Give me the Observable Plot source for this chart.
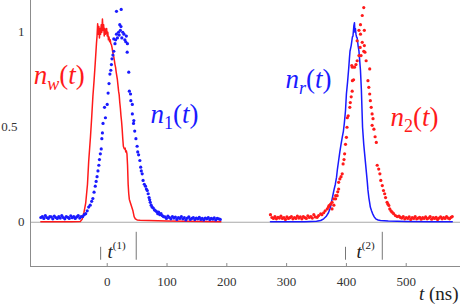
<!DOCTYPE html>
<html><head><meta charset="utf-8">
<script src="https://cdn.jsdelivr.net/npm/d3@7"></script>
<script src="https://cdn.jsdelivr.net/npm/@observablehq/plot@0.6"></script>
</head><body style="margin:0"><div id="chart"></div>
<script>
// ---- data ----
const xDomain = [-128.3, 590.8];
const yDomain = [-0.233, 1.167];
const xTicks = [0, 100, 200, 300, 400, 500];
const yTicksMain = [0, 1];
const yTicksHalf = [0.5];

// n_w(t): red solid line (first pulse)
const nwLine = [[-111,0.003],[-60,0.003],[-45,0.004],[-42,0.015],[-39,0.05],[-36,0.10],[-33,0.2],[-31,0.32],[-28,0.45],[-26,0.55],[-24,0.66],[-22,0.745],[-20,0.84],[-18,0.94],[-17,0.98],[-16,1.045],[-15,0.99],[-14,1.03],[-13,0.97],[-12,1.02],[-11,0.99],[-10,1.04],[-9,1.0],[-8,1.07],[-7,1.01],[-6,1.04],[-5,0.98],[-4,1.02],[-3,0.99],[-2,1.01],[-1,1.02],[0,0.98],[1,1.0],[2,0.96],[3,0.975],[4,0.95],[5,0.96],[6,0.94],[7,0.935],[8,0.92],[9,0.9],[10,0.885],[11,0.87],[12,0.85],[13,0.83],[14,0.815],[15,0.79],[16,0.77],[17,0.75],[18,0.72],[19,0.69],[20,0.67],[21,0.63],[22,0.6],[23,0.56],[24,0.53],[25,0.49],[26,0.44],[27,0.40],[28,0.39],[29,0.385],[30,0.39],[31,0.37],[32,0.375],[33,0.36],[34,0.3],[35,0.2],[36,0.15],[37,0.12],[39,0.1],[41,0.08],[43,0.06],[45,0.03],[47,0.018],[50,0.012],[55,0.01],[70,0.009],[100,0.007],[130,0.005],[160,0.004],[190,0.003]];

// n_1(t): blue dots (first pulse)
const n1Dots = [[-111,0.025],[-108.5,0.03],[-106,0.02],[-103.5,0.035],[-101,0.025],[-98.5,0.02],[-96,0.03],[-93.5,0.028],[-91,0.018],[-88.5,0.032],[-86,0.025],[-83.5,0.02],[-81,0.03],[-78.5,0.022],[-76,0.035],[-73.5,0.025],[-71,0.018],[-68.5,0.03],[-66,0.026],[-63.5,0.02],[-61,0.033],[-58.5,0.024],[-56,0.03],[-53.5,0.02],[-51,0.028],[-48.5,0.035],[-46,0.022],[-43.5,0.03],
[-41,0.03],[-38.5,0.04],[-36,0.045],[-33.5,0.06],[-31,0.08],[-28.5,0.09],[-26,0.11],[-24,0.125],[-22,0.158],[-20,0.19],[-18.5,0.215],[-17,0.24],[-15.5,0.27],[-14,0.3],[-13,0.33],[-11.5,0.36],[-10,0.386],[-9,0.44],[-8,0.47],[-7,0.52],[-4.5,0.605],[-3,0.55],[0,0.62],[1.5,0.68],[3,0.73],[4.5,0.78],[6,0.8],[7,0.83],[8,0.86],[9.5,0.88],[11,0.90],[11,0.965],[13,0.94],[14,0.96],[15.5,0.99],[15.5,1.11],[17,0.97],[19,1.0],[20,0.985],[21,1.04],[22,1.01],[23,1.03],[23.4,1.12],[24.5,0.97],[26,1.0],[28,0.99],[29.5,0.96],[31,0.95],[32,0.98],[33.4,0.895],[33.8,0.94],[36,0.79],[37,0.69],[39,0.675],[39.5,0.64],[42,0.62],[42,0.57],[44,0.52],[44.5,0.535],[46,0.48],[48,0.44],[50,0.40],[51,0.37],[52.5,0.355],[54.6,0.325],[56,0.29],[57,0.27],[58.5,0.255],[60,0.22],[62,0.2],[64,0.19],[65.5,0.175],[67,0.167],[68.5,0.15],[70,0.13],[71,0.118],[72,0.105],[73.5,0.09],[75,0.08],[77,0.075],[79,0.065],[81,0.06],[83,0.055],[84.5,0.045],[86,0.053],[88,0.04],[90,0.045],[92,0.035],[94,0.03],
[96.5,0.028],[99,0.02],[101.5,0.032],[104,0.025],[106.5,0.018],[109,0.03],[111.5,0.022],[114,0.027],[116.5,0.015],[119,0.025],[121.5,0.02],[124,0.03],[126.5,0.018],[129,0.024],[131.5,0.012],[134,0.022],[136.5,0.028],[139,0.015],[141.5,0.02],[144,0.025],[146.5,0.014],[149,0.022],[151.5,0.018],[154,0.026],[156.5,0.015],[159,0.02],[161.5,0.012],[164,0.022],[166.5,0.018],[169,0.025],[171.5,0.014],[174,0.02],[176.5,0.016],[179,0.023],[181.5,0.012],[184,0.02],[186.5,0.018],[189,0.015]];

// n_r(t): blue solid line (second pulse)
const nrLine = [[273,0.003],[300,0.003],[330,0.003],[350,0.005],[357,0.009],[362,0.018],[366,0.03],[370,0.05],[373,0.075],[376,0.12],[379,0.167],[381.5,0.2],[383.5,0.237],[385,0.28],[387,0.325],[389,0.37],[391,0.41],[393,0.447],[395,0.48],[396.5,0.52],[398.5,0.588],[400,0.675],[402,0.74],[404,0.816],[405,0.86],[406,0.9],[408,0.93],[410,0.975],[411,0.98],[412.5,1.035],[413.5,1.05],[414.3,1.0],[415,1.02],[416,0.99],[417,0.975],[418,0.97],[419.5,0.93],[421,0.9],[422,0.86],[423.5,0.8],[425,0.7],[426,0.6],[427,0.5],[429,0.41],[430.5,0.36],[432,0.31],[433.5,0.26],[435,0.21],[436,0.17],[437.5,0.13],[439,0.1],[440,0.08],[442,0.06],[444,0.044],[446.5,0.028],[449,0.018],[453,0.012],[457,0.009],[470,0.006],[500,0.004],[540,0.003],[577,0.003]];

// n_2(t): red dots (second pulse)
const n2Dots = [[273,0.04],[275.5,0.025],[278,0.02],[280.5,0.03],[283,0.018],[285.5,0.026],[288,0.022],[290.5,0.032],[293,0.02],[295.5,0.025],[298,0.015],[300.5,0.028],[303,0.02],[305.5,0.024],[308,0.03],[310.5,0.018],[313,0.025],[315.5,0.02],[318,0.032],[320.5,0.022],[323,0.028],[325.5,0.018],[328,0.03],[330.5,0.024],[333,0.02],[335.5,0.034],[338,0.025],[340.5,0.03],[343,0.022],[345.5,0.04],[348,0.028],
[351,0.026],[353.5,0.035],[357,0.044],[359,0.04],[362,0.05],[364.5,0.06],[368,0.07],[370,0.08],[371,0.088],[373.5,0.095],[376,0.07],[376,0.105],[379,0.09],[379,0.123],[382,0.123],[382,0.14],[384.5,0.14],[385.5,0.16],[387,0.175],[387,0.21],[389,0.228],[391,0.24],[393,0.255],[394.5,0.307],[396,0.33],[397,0.36],[398.5,0.41],[400,0.447],[401,0.50],[401.5,0.55],[403,0.56],[405.7,0.605],[406.5,0.63],[408,0.66],[409.7,0.69],[410,0.745],[412,0.75],[410,0.816],[409,0.825],[413.5,0.816],[416,0.83],[418,0.85],[421,0.877],[424.5,0.877],[429,0.90],[423,0.92],[430,0.93],[431,0.895],[426.5,0.947],[418,0.955],[423.5,0.99],[421,1.01],[430,1.01],[423.5,1.04],[426.5,1.088],[429,1.13],[433,0.85],[436,0.745],[437.5,0.71],[439,0.807],[439,0.675],[440,0.64],[441.5,0.605],[443,0.57],[443,0.51],[444.5,0.545],[446,0.49],[448,0.45],[450,0.42],[451.5,0.30],[454,0.28],[456,0.255],[457.5,0.22],[460,0.193],[462,0.167],[464,0.15],[465.5,0.13],[468,0.105],[469.5,0.095],[471,0.088],[472.5,0.07],[474.5,0.06],[476.5,0.053],[479,0.045],[482,0.035],[485,0.03],[488,0.032],[490,0.026],
[492.5,0.022],[495,0.03],[497.5,0.018],[500,0.025],[502.5,0.02],[505,0.028],[507.5,0.015],[510,0.024],[512.5,0.02],[515,0.03],[517.5,0.018],[520,0.022],[522.5,0.026],[525,0.016],[527.5,0.024],[530,0.02],[532.5,0.028],[535,0.018],[537.5,0.022],[540,0.03],[542.5,0.016],[545,0.024],[547.5,0.02],[550,0.026],[552.5,0.015],[555,0.022],[557.5,0.028],[560,0.018],[562.5,0.024],[565,0.02],[567.5,0.03],[570,0.022],[572.5,0.018],[575,0.026],[577,0.03]];

// time-window markers t^(1), t^(2)
const markT = [-11, 48.5, 398.5, 460];
const markTop = [-0.132, -0.053, -0.132, -0.053];
const markBottom = -0.2;
const markLabels = ["t(1)", "t(2)"];
const markLabelT = [0.5, 417];
const markLabelY = -0.186;

// curve labels
const curveLabels = ["n_w(t)", "n_1(t)", "n_r(t)", "n_2(t)"];
const curveLabelT = [-123, 72.4, 298, 473.7];
const curveLabelY = [0.73, 0.52, 0.709, 0.509];
const curveColors = ["#ff1a1a", "#1a1aff", "#1a1aff", "#ff1a1a"];
const axisLabel = "t (ns)";

// ---- chart ----
const RED = "#ff1a1a", BLUE = "#1a1aff", GRAY = "#8c8c8c";
const serif = "Times New Roman";

const curveData = curveLabels.map((s, i) => ({s, x: curveLabelT[i], y: curveLabelY[i], c: curveColors[i]}));
const markData = markT.map((t, i) => ({t, top: markTop[i]}));
const markLabelData = markLabels.map((s, i) => ({s, x: markLabelT[i]}));
const fmt = d => String(d);

const plot = Plot.plot({
  width: 469, height: 304,
  marginLeft: 30, marginRight: 9, marginTop: 0, marginBottom: 38,
  x: {domain: xDomain},
  y: {domain: yDomain},
  marks: [
    Plot.ruleY([0], {stroke: "#a8a8a8", strokeWidth: 1.2}),
    Plot.ruleX([xDomain[0]], {stroke: GRAY}),
    Plot.ruleY([yDomain[0]], {stroke: GRAY}),
    Plot.ruleX(xTicks, {y1: yDomain[0], y2: yDomain[0], insetBottom: 3, stroke: GRAY}),
    Plot.axisX({ticks: xTicks, tickFormat: fmt, tickSize: 0, tickPadding: 10, fontSize: 13, fontFamily: serif, fill: "#333", label: null}),
    Plot.axisY({ticks: yTicksMain, tickFormat: fmt, tickSize: 0, tickPadding: 6, fontSize: 13, fontFamily: serif, fill: "#333", label: null}),
    Plot.axisY({ticks: yTicksHalf, tickFormat: fmt, tickSize: 0, tickPadding: 13, fontSize: 13, fontFamily: serif, fill: "#333", label: null}),
    Plot.line(nwLine, {x: d => d[0], y: d => d[1], stroke: RED, strokeWidth: 1.5}),
    Plot.line(nrLine, {x: d => d[0], y: d => d[1], stroke: BLUE, strokeWidth: 1.5}),
    Plot.dot(n1Dots, {x: d => d[0], y: d => d[1], r: 1.6, fill: BLUE, stroke: "none"}),
    Plot.dot(n2Dots, {x: d => d[0], y: d => d[1], r: 1.6, fill: RED, stroke: "none"}),
    Plot.ruleX(markData, {x: "t", y1: markBottom, y2: "top", stroke: "#777"}),
    Plot.text(markLabelData, {x: "x", y: markLabelY, text: "s", textAnchor: "start", lineAnchor: "bottom", fontSize: 19, fontFamily: serif, fill: "#222"}),
    Plot.text(curveData, {x: "x", y: "y", text: "s", fill: "c", textAnchor: "start", lineAnchor: "bottom", fontSize: 27, fontFamily: serif}),
    Plot.text([axisLabel], {x: xDomain[1], y: yDomain[0], text: d => d, textAnchor: "end", lineAnchor: "bottom", dx: -2, dy: 33, fontSize: 19, fontFamily: serif, fill: "#222"})
  ]
});
plot.setAttribute("font-family", serif);

// rich text (italics, sub/superscripts) as real SVG tspans
const NS = "http://www.w3.org/2000/svg";
function rich(el, parts) {
  el.textContent = "";
  for (const p of parts) {
    const ts = document.createElementNS(NS, "tspan");
    ts.textContent = p.t;
    if (p.i) ts.setAttribute("font-style", "italic");
    if (p.s) ts.setAttribute("font-size", p.s);
    if (p.dy) ts.setAttribute("dy", p.dy);
    el.appendChild(ts);
  }
}
plot.querySelectorAll("text").forEach(el => {
  const s = el.textContent;
  let m;
  if ((m = /^n_(.)\(t\)$/.exec(s))) {
    const digit = /\d/.test(m[1]);
    rich(el, [{t: "n", i: 1}, {t: m[1], i: !digit, s: 18, dy: 6}, {t: "(", dy: -6, s: 27}, {t: "t", i: 1}, {t: ")"}]);
  } else if ((m = /^t(\(\d\))$/.exec(s))) {
    rich(el, [{t: "t", i: 1}, {t: m[1], s: 11, dy: -9}]);
  } else if (s === axisLabel) {
    rich(el, [{t: "t", i: 1}, {t: " (ns)"}]);
  }
});
plot.querySelectorAll("text, tspan").forEach(el => {
  el.setAttribute("font-family", serif);
  el.style.setProperty("font-family", "'Times New Roman', 'Liberation Serif', serif", "important");
});
document.getElementById("chart").appendChild(plot);
</script></body></html>
